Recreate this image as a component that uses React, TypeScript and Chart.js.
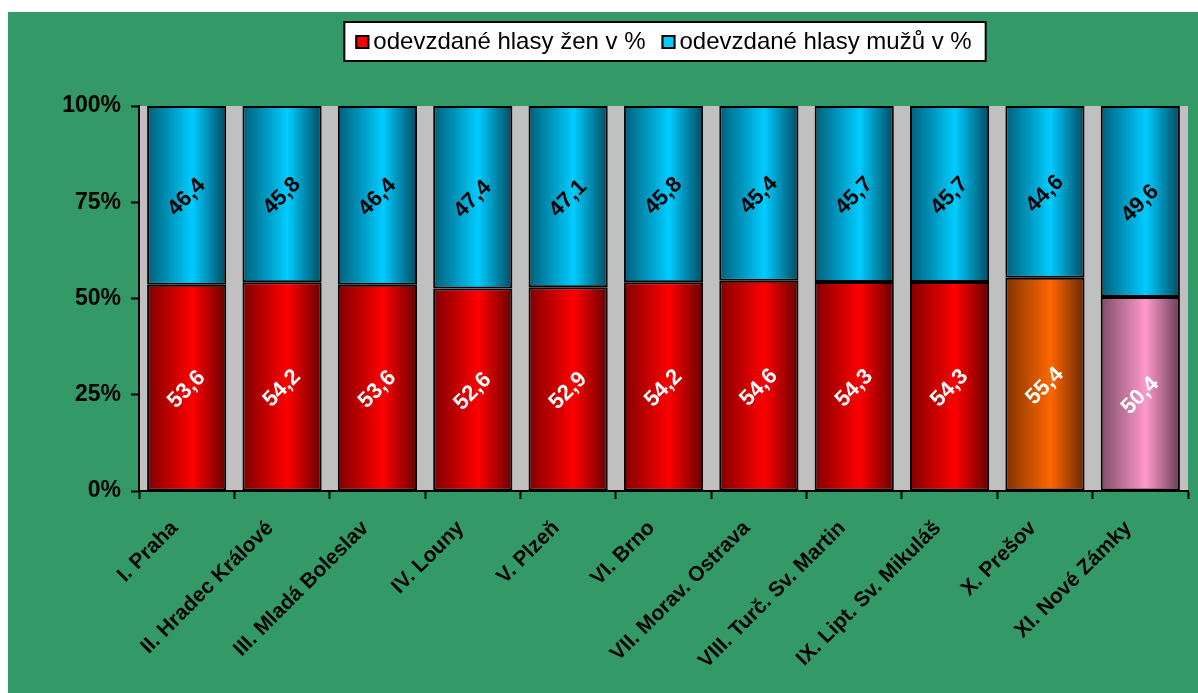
import React, { useEffect, useRef } from 'react';
import { Chart, registerables } from 'chart.js';

Chart.register(...registerables);

const categories = [
  'I. Praha',
  'II. Hradec Králové',
  'III. Mladá Boleslav',
  'IV. Louny',
  'V. Plzeň',
  'VI. Brno',
  'VII. Morav. Ostrava',
  'VIII. Turč. Sv. Martin',
  'IX. Lipt. Sv. Mikuláš',
  'X. Prešov',
  'XI. Nové Zámky',
];
const womenVotes = [53.6, 54.2, 53.6, 52.6, 52.9, 54.2, 54.6, 54.3, 54.3, 55.4, 50.4];
const menVotes = [46.4, 45.8, 46.4, 47.4, 47.1, 45.8, 45.4, 45.7, 45.7, 44.6, 49.6];
const seriesLabels = ['odevzdané hlasy žen v %', 'odevzdané hlasy mužů v %'];
const yTickValues = [0, 25, 50, 75, 100];

// styles
const FONT = 'Arial, "Liberation Sans", sans-serif';
const womenBright = ['#FF0000', '#FF0000', '#FF0000', '#FF0000', '#FF0000', '#FF0000', '#FF0000', '#FF0000', '#FF0000', '#FF6600', '#FF99CC'];
const womenDark = ['#800000', '#800000', '#800000', '#800000', '#800000', '#800000', '#800000', '#800000', '#800000', '#803300', '#804D66'];
const womenDarker = ['#680000', '#680000', '#680000', '#680000', '#680000', '#680000', '#680000', '#680000', '#680000', '#682900', '#683E53'];
const menBright = '#00CCFF';
const menDark = '#005F7A';
const menDarker = '#004A60';
const legendColors = ['#FF0000', '#00CCFF'];
const BAR_FRACTION = 0.83;
const LEGEND_BOX = 14;

function fmt(v: number) {
  return v.toFixed(1).replace('.', ',');
}

function gradientFor(ctx: any, bright: string, dark: string, darker: string) {
  const chart = ctx.chart;
  const xs = chart.scales && chart.scales.x;
  const i = ctx.dataIndex;
  if (!xs || !chart.chartArea || typeof i !== 'number' || !isFinite(xs.width)) return bright;
  const cx = xs.getPixelForValue(i);
  const w = (xs.width / categories.length) * BAR_FRACTION;
  if (!isFinite(cx) || !isFinite(w) || w <= 0) return bright;
  const g = chart.ctx.createLinearGradient(cx - w / 2, 0, cx + w / 2, 0);
  g.addColorStop(0, dark);
  g.addColorStop(0.57, bright);
  g.addColorStop(1, darker);
  return g;
}

const backgroundPlugin = {
  id: 'bgAndLegendFrame',
  beforeLayout(chart: any) {
    const lg = chart.legend;
    if (lg && !lg.__patched) {
      const orig = lg.fit.bind(lg);
      lg.fit = function () {
        orig();
        this.height = 92;
      };
      lg.__patched = true;
    }
  },
  beforeDraw(chart: any) {
    const { ctx, chartArea: a } = chart;
    ctx.save();
    ctx.fillStyle = '#C0C0C0';
    ctx.fillRect(a.left, a.top, a.right - a.left, a.bottom - a.top);
    const lg = chart.legend;
    if (lg && lg.legendHitBoxes && lg.legendHitBoxes.length) {
      const hb = lg.legendHitBoxes;
      const last = hb[hb.length - 1];
      const left = hb[0].left - 11;
      const right = last.left + last.width + 14;
      const top = hb[0].top - 8;
      const bottom = hb[0].top + hb[0].height + 7;
      ctx.fillStyle = '#FFFFFF';
      ctx.fillRect(left, top, right - left, bottom - top);
      ctx.strokeStyle = '#000000';
      ctx.lineWidth = 2;
      ctx.strokeRect(left, top, right - left, bottom - top);
    }
    ctx.restore();
  },
  afterDraw(chart: any) {
    const { ctx } = chart;
    const lg = chart.legend;
    if (!lg || !lg.legendHitBoxes) return;
    ctx.save();
    lg.legendHitBoxes.forEach((h: any, i: number) => {
      const y = h.top + (h.height - LEGEND_BOX) / 2;
      ctx.fillStyle = legendColors[i];
      ctx.fillRect(h.left, y, LEGEND_BOX, LEGEND_BOX);
      ctx.strokeStyle = '#000000';
      ctx.lineWidth = 2;
      ctx.strokeRect(h.left + 1, y + 1, LEGEND_BOX - 2, LEGEND_BOX - 2);
    });
    ctx.restore();
  },
};

const dataLabelPlugin = {
  id: 'dataLabels',
  afterDatasetsDraw(chart: any) {
    const c = chart.ctx;
    chart.data.datasets.forEach((ds: any, di: number) => {
      const meta = chart.getDatasetMeta(di);
      meta.data.forEach((bar: any, i: number) => {
        const p = bar.getProps(['x', 'y', 'base'], true);
        const cy = (p.y + p.base) / 2 + 2;
        c.save();
        c.translate(p.x, cy);
        c.rotate(-Math.PI / 4);
        c.font = `bold 22px ${FONT}`;
        c.fillStyle = di === 0 ? '#FFFFFF' : '#000000';
        c.textAlign = 'center';
        c.textBaseline = 'middle';
        c.fillText(fmt(ds.data[i]), 0, 0);
        c.restore();
      });
    });
  },
};

export default function App() {
  const ref = useRef<HTMLCanvasElement | null>(null);

  useEffect(() => {
    if (!ref.current) return;
    const chart = new Chart(ref.current, {
      type: 'bar',
      data: {
        labels: categories,
        datasets: [
          {
            label: seriesLabels[0],
            data: womenVotes,
            backgroundColor: (ctx: any) =>
              gradientFor(ctx, womenBright[ctx.dataIndex] || womenBright[0], womenDark[ctx.dataIndex] || womenDark[0], womenDarker[ctx.dataIndex] || womenDarker[0]),
            borderColor: '#000000',
            borderWidth: 2,
            borderSkipped: false,
            categoryPercentage: BAR_FRACTION,
            barPercentage: 1,
            clip: false,
          },
          {
            label: seriesLabels[1],
            data: menVotes,
            backgroundColor: (ctx: any) => gradientFor(ctx, menBright, menDark, menDarker),
            borderColor: '#000000',
            borderWidth: 2,
            borderSkipped: false,
            categoryPercentage: BAR_FRACTION,
            barPercentage: 1,
            clip: false,
          },
        ],
      } as any,
      options: {
        responsive: false,
        animation: false,
        events: [],
        layout: { padding: { top: 2, left: 0, right: 10, bottom: 0 } },
        plugins: {
          tooltip: { enabled: false },
          title: { display: false },
          legend: {
            display: true,
            position: 'top',
            fullSize: false,
            labels: {
              boxWidth: 6,
              boxHeight: LEGEND_BOX,
              padding: 16,
              color: '#000000',
              font: { family: FONT, size: 24 },
              generateLabels: () =>
                seriesLabels.map((t, i) => ({
                  text: t,
                  fillStyle: 'rgba(0,0,0,0)',
                  strokeStyle: 'rgba(0,0,0,0)',
                  lineWidth: 0,
                  hidden: false,
                  datasetIndex: i,
                  fontColor: '#000000',
                })),
            },
          },
        },
        scales: {
          x: {
            stacked: true,
            ticks: {
              autoSkip: false,
              maxRotation: 45,
              minRotation: 45,
              color: '#000000',
              padding: 17,
              labelOffset: -12,
              font: { family: FONT, size: 21, weight: 'bold' },
            },
            grid: {
              offset: true,
              drawOnChartArea: false,
              drawTicks: true,
              tickLength: 8,
              tickColor: '#000000',
              tickWidth: 2,
            },
            border: { display: true, color: '#000000', width: 2 },
            afterFit: (s: any) => {
              s.height = 202;
            },
          },
          y: {
            stacked: true,
            min: 0,
            max: 100,
            afterBuildTicks: (s: any) => {
              s.ticks = yTickValues.map((v) => ({ value: v }));
            },
            ticks: {
              color: '#000000',
              padding: 10,
              font: { family: FONT, size: 23, weight: 'bold' },
              callback: (v: any) => `${v}%`,
            },
            grid: {
              drawOnChartArea: false,
              drawTicks: true,
              tickLength: 8,
              tickColor: '#000000',
              tickWidth: 2,
            },
            border: { display: true, color: '#000000', width: 2 },
            afterFit: (s: any) => {
              s.width = 131;
            },
          },
        },
      } as any,
      plugins: [backgroundPlugin, dataLabelPlugin],
    });
    return () => chart.destroy();
  }, []);

  return (
    <div
      style={{
        position: 'absolute',
        left: 8,
        top: 12,
        width: 1190,
        height: 681,
        background: '#339966',
      }}
    >
      <canvas ref={ref} width={1190} height={681} style={{ display: 'block', width: 1190, height: 681 }} />
    </div>
  );
}
